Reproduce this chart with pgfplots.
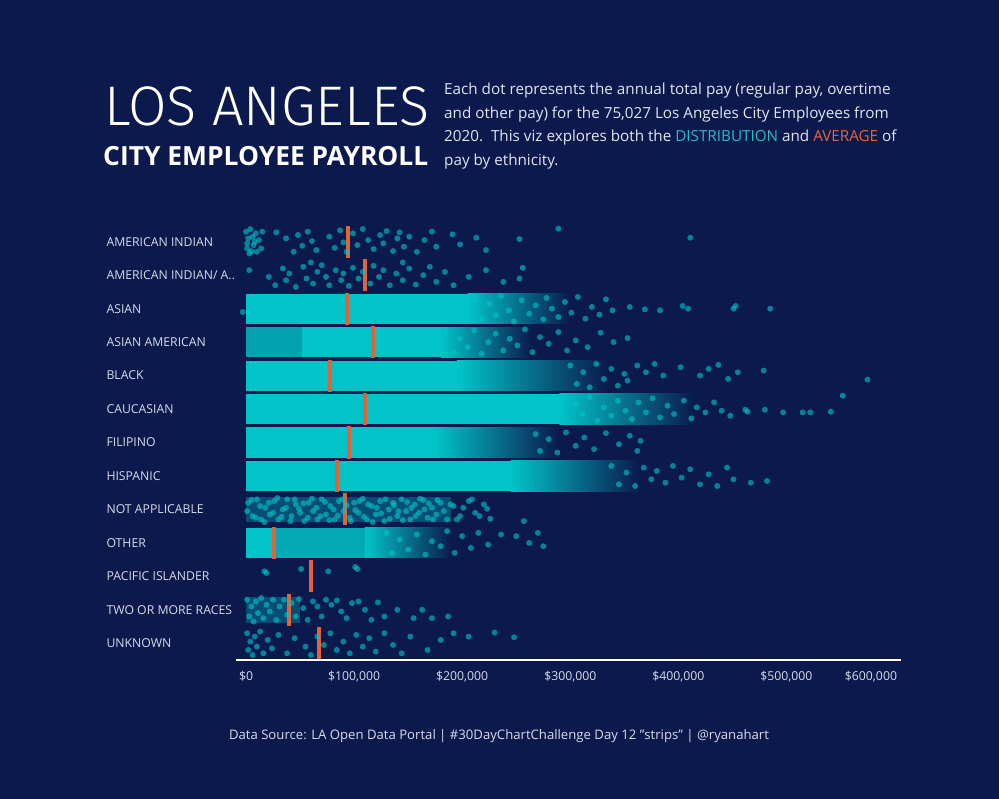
\documentclass[border=0pt]{standalone}
\usepackage{fontspec}
\setmainfont{Open Sans}
\newfontfamily\lightfont{Fira Sans Light}
\usepackage{pgfplots}
\pgfplotsset{compat=1.18}
\definecolor{bg}{RGB}{11,25,77}
\definecolor{dotc}{RGB}{0,196,200}
\definecolor{avgc}{RGB}{226,99,58}
\definecolor{lbl}{RGB}{215,220,232}
\definecolor{desc}{RGB}{225,229,238}
\definecolor{distc}{RGB}{40,188,196}
\definecolor{avgt}{RGB}{232,100,58}
\newcommand\sixlabel{\$600,000}
\pgfplotsset{
  band/.style={fill=dotc, draw=none},
  semi/.style={fill=dotc, draw=none, fill opacity=#1},
  fade/.style={draw=none, left color=dotc, middle color=dotc!65!bg, right color=bg},
  dots/.style={only marks, mark=*, mark size=3bp, mark options={draw=none, fill=dotc, fill opacity=0.62, draw opacity=0}},
  avg/.style={draw=avgc, line width=4bp},
}
\begin{document}
\begin{tikzpicture}
\fill[bg] (0,0) rectangle (999bp,799bp);
\useasboundingbox (0,0) rectangle (999bp,799bp);
\node[anchor=base west, inner sep=0, text=white] at (104bp,673bp) {\lightfont\fontsize{56}{56}\selectfont LOS ANGELES};
\node[anchor=base west, inner sep=0, text=white] at (103bp,633bp) {\bfseries\fontsize{26.5}{26.5}\selectfont CITY EMPLOYEE PAYROLL};
\node[anchor=north west, inner sep=0, align=left, text=desc, font=\fontsize{15.3}{23.5}\selectfont] at (444bp,716bp) {Each dot represents the annual total pay (regular pay, overtime\\ and other pay) for the 75,027 Los Angeles City Employees from\\ 2020.\ \ This viz explores both the \textcolor{distc}{DISTRIBUTION} and \textcolor{avgt}{AVERAGE} of\\ pay by ethnicity.};
\node[anchor=base, text=lbl, font=\fontsize{13.2}{15}\selectfont] at (499bp,59bp) {Data Source: LA Open Data Portal | \#30DayChartChallenge Day 12 "strips" | @ryanahart};
\begin{axis}[
  at={(236bp,139bp)}, anchor=south west, scale only axis,
  width=665bp, height=435bp,
  xmin=-9.3, xmax=606, ymin=0.5, ymax=13.5, y dir=reverse,
  axis x line=bottom, axis y line=left,
  x axis line style={draw=white, line width=1.2bp, -},
  y axis line style={draw=none},
  major tick length=0, tick style={draw=none},
  xtick={0,100,200,300,400,500},
  xticklabels={{\$0},{\$100,000},{\$200,000},{\$300,000},{\$400,000},{\$500,000}},
  extra x ticks={600}, extra x tick labels={\sixlabel},
  extra x tick style={grid=none, xticklabel style={anchor=north east, xshift=6bp}},
  ytick={1,...,13},
  yticklabels={AMERICAN INDIAN,AMERICAN INDIAN/ A..,ASIAN,ASIAN AMERICAN,BLACK,CAUCASIAN,FILIPINO,HISPANIC,NOT APPLICABLE,OTHER,PACIFIC ISLANDER,TWO OR MORE RACES,UNKNOWN},
  yticklabel style={anchor=west, xshift=-133bp},
  xticklabel style={yshift=-8bp},
  ticklabel style={font=\fontsize{12.3}{14}\selectfont, text=lbl},
  clip=false,
]
% ---- dense bands ----
\addplot[band] coordinates {(0,2.55) (205,2.55) (205,3.45) (0,3.45)} --cycle;
\addplot[fade] coordinates {(205,2.55) (300,2.55) (300,3.45) (205,3.45)} --cycle;
\addplot[semi=0.8] coordinates {(0,3.55) (52,3.55) (52,4.45) (0,4.45)} --cycle;
\addplot[band] coordinates {(52,3.55) (180,3.55) (180,4.45) (52,4.45)} --cycle;
\addplot[fade] coordinates {(180,3.55) (265,3.55) (265,4.45) (180,4.45)} --cycle;
\addplot[band] coordinates {(0,4.55) (195,4.55) (195,5.45) (0,5.45)} --cycle;
\addplot[fade] coordinates {(195,4.55) (335,4.55) (335,5.45) (195,5.45)} --cycle;
\addplot[band] coordinates {(0,5.55) (290,5.55) (290,6.45) (0,6.45)} --cycle;
\addplot[fade] coordinates {(290,5.55) (415,5.55) (415,6.45) (290,6.45)} --cycle;
\addplot[band] coordinates {(0,6.55) (175,6.55) (175,7.45) (0,7.45)} --cycle;
\addplot[fade] coordinates {(175,6.55) (290,6.55) (290,7.45) (175,7.45)} --cycle;
\addplot[band] coordinates {(0,7.55) (245,7.55) (245,8.45) (0,8.45)} --cycle;
\addplot[fade] coordinates {(245,7.55) (365,7.55) (365,8.45) (245,8.45)} --cycle;
\addplot[semi=0.3] coordinates {(0,8.62) (190,8.62) (190,9.38) (0,9.38)} --cycle;
\addplot[band] coordinates {(0,9.55) (27,9.55) (27,10.45) (0,10.45)} --cycle;
\addplot[semi=0.85] coordinates {(27,9.55) (110,9.55) (110,10.45) (27,10.45)} --cycle;
\addplot[fade] coordinates {(110,9.55) (190,9.55) (190,10.45) (110,10.45)} --cycle;
\addplot[semi=0.3] coordinates {(0,11.62) (50,11.62) (50,12.38) (0,12.38)} --cycle;
% ---- individual dots ----
\addplot[dots] table {
x y
0 0.7
1 1.2
2 0.9
3 1.35
1 1.05
4 0.62
5 1.28
6 0.85
7 1.1
9 0.75
10 1.3
12 0.95
14 1.2
15 0.7
8 1.0
28 0.72
37 0.9
44 1.3
48 0.8
52 1.12
57 0.7
61 0.98
65 1.25
77 0.85
82 1.18
87 0.66
90 1.02
93 1.3
99 0.75
103 1.1
108 0.62
113 0.95
118 1.22
124 0.8
127 1.05
130 0.68
136 1.28
140 0.9
142 0.72
146 1.15
151 0.85
158 1.3
165 0.95
172 0.7
176 1.15
191 0.78
198 1.08
213 0.88
222 1.25
253 0.92
289 0.61
411 0.88
};
\addplot[dots] table {
x y
3 1.85
21 2.05
27 2.3
34 1.8
37 2.15
40 1.95
46 2.35
53 1.75
56 2.1
62 2.25
66 1.9
70 1.7
74 2.05
77 2.3
83 1.85
88 2.15
90 1.95
95 2.32
99 1.78
104 2.1
108 1.9
115 2.25
118 1.72
123 2.05
127 1.85
133 2.3
139 1.95
145 2.15
151 1.8
157 2.28
164 2.0
170 1.75
176 2.2
184 1.9
192 2.3
206 2.05
222 1.85
238 2.2
253 2.1
256 1.78
145 1.62
60 1.62
};
\addplot[dots] table {
x y
-3 3.1
212 2.7
218 3.3
225 2.85
231 3.2
236 2.62
243 3.05
248 3.38
255 2.75
262 3.15
268 2.9
275 3.32
278 2.68
283 3.0
289 3.25
295 2.8
301 3.12
307 2.65
314 3.3
320 2.95
327 3.18
333 2.72
339 3.05
355 2.95
369 3.02
383 3.05
404 2.92
409 3.0
451 3.0
453 2.92
485 3.0
};
\addplot[dots] table {
x y
185 3.7
192 4.3
198 3.9
205 4.15
211 3.65
218 4.35
224 4.0
231 3.75
238 4.25
244 3.9
251 4.1
258 3.62
265 4.3
272 3.85
280 4.05
289 3.7
297 4.25
305 3.95
316 4.15
328 3.72
340 4.0
353 3.88
};
\addplot[dots] table {
x y
300 4.7
306 5.25
312 4.9
318 5.35
324 4.65
331 5.1
338 4.8
344 5.3
350 4.95
353 5.15
362 4.7
370 4.9
378 4.65
386 5.0
402 4.75
420 5.0
428 4.8
437 4.68
446 5.1
455 4.9
479 4.85
575 5.12
};
\addplot[dots] table {
x y
292 5.7
298 6.3
305 5.85
311 6.15
318 5.65
325 6.35
331 5.95
338 6.2
344 5.75
351 6.05
357 6.3
363 5.8
370 6.1
376 5.68
383 6.25
390 5.9
396 6.15
405 5.75
412 6.28
417 5.95
425 6.1
433 5.8
440 6.05
448 6.2
462 6.02
464 6.08
480 6.02
497 6.1
515 6.1
522 6.1
541 6.08
552 5.6
};
\addplot[dots] table {
x y
268 6.75
272 7.25
280 6.9
288 7.3
296 6.7
305 7.1
313 6.85
322 7.2
333 6.72
345 7.05
355 6.8
362 7.25
365 6.95
};
\addplot[dots] table {
x y
338 7.7
345 8.25
352 7.9
360 8.3
368 7.75
375 8.1
380 7.85
388 8.2
395 7.7
403 8.05
411 7.8
420 8.25
428 7.95
436 8.3
445 7.75
451 8.1
467 8.2
482 8.15
};
\addplot[dots] table {
x y
2 8.8
6 9.2
10 8.7
14 9.3
18 8.95
22 9.15
26 8.75
30 9.3
34 9.0
38 8.7
42 9.2
46 8.85
50 9.1
54 9.35
58 8.8
62 9.05
66 9.3
70 8.7
74 9.15
78 8.9
82 9.3
86 8.75
90 9.05
96 9.25
100 8.8
104 9.1
108 8.68
112 9.3
116 8.9
120 9.15
124 8.75
128 9.35
132 9.0
136 8.8
140 9.2
144 8.7
148 9.05
152 9.3
156 8.85
160 9.1
164 8.72
168 9.25
172 8.95
176 9.15
180 8.8
186 9.3
192 8.9
198 9.2
206 8.75
212 9.1
220 8.85
226 9.28
257 9.35
1 9.05
5 8.72
9 9.25
13 8.9
17 9.38
21 8.8
25 9.1
29 8.66
33 9.22
37 8.95
41 9.35
45 8.7
49 8.98
53 8.82
57 9.25
61 8.68
65 8.95
69 9.2
73 8.78
77 9.32
81 9.0
85 9.18
89 8.7
93 8.88
97 9.35
101 9.02
105 8.75
109 9.22
113 8.85
117 9.38
121 8.95
125 9.12
129 8.7
133 9.28
137 8.88
141 9.05
145 9.32
149 8.78
153 8.95
157 9.2
161 8.68
165 9.0
169 8.82
173 9.3
177 8.72
183 9.05
189 8.85
195 9.3
201 8.95
209 8.7
216 9.2
223 8.98
};
\addplot[dots] table {
x y
130 9.7
135 10.3
142 9.9
150 10.2
158 9.75
166 10.35
172 9.95
180 10.1
186 9.65
193 10.3
200 9.8
208 10.15
215 9.7
224 10.05
236 9.75
250 9.8
262 10.0
275 10.1
270 9.7
};
\addplot[dots] table {
x y
17 10.85
19 10.9
51 10.78
76 10.85
101 10.72
103 10.78
};
\addplot[dots] table {
x y
1 11.7
3 12.2
5 11.9
7 12.35
9 11.75
11 12.1
14 11.65
16 12.25
19 11.85
22 12.05
25 11.7
28 12.3
31 11.9
35 11.7
38 12.15
42 11.8
46 12.2
49 11.68
53 11.95
57 12.3
62 11.75
66 11.9
70 12.2
74 11.7
79 11.85
84 11.72
88 12.05
93 12.25
98 11.8
104 11.75
110 12.0
116 12.3
122 11.78
128 12.2
140 12.0
155 12.25
163 12.0
172 12.25
187 12.2
};
\addplot[dots] table {
x y
1 12.7
2 13.2
4 12.95
6 13.35
8 12.8
10 13.1
13 12.65
16 13.3
20 12.9
24 13.15
30 12.75
38 13.3
45 12.85
55 13.1
60 13.35
66 12.8
72 13.05
78 12.7
84 13.2
90 12.95
96 13.3
102 12.75
108 13.1
114 12.85
120 13.25
128 12.7
136 13.05
144 13.3
152 12.8
168 13.2
180 12.9
192 12.7
206 12.8
230 12.68
248 12.82
};
% ---- averages ----
\addplot[avg] coordinates {(94.4,0.52) (94.4,1.48)};
\addplot[avg] coordinates {(110,1.52) (110,2.48)};
\addplot[avg] coordinates {(93.5,2.52) (93.5,3.48)};
\addplot[avg] coordinates {(117.6,3.52) (117.6,4.48)};
\addplot[avg] coordinates {(77.8,4.52) (77.8,5.48)};
\addplot[avg] coordinates {(110,5.52) (110,6.48)};
\addplot[avg] coordinates {(95.4,6.52) (95.4,7.48)};
\addplot[avg] coordinates {(84.3,7.52) (84.3,8.48)};
\addplot[avg] coordinates {(91.7,8.52) (91.7,9.48)};
\addplot[avg] coordinates {(26,9.52) (26,10.48)};
\addplot[avg] coordinates {(60,10.52) (60,11.48)};
\addplot[avg] coordinates {(39.8,11.52) (39.8,12.48)};
\addplot[avg] coordinates {(67.6,12.52) (67.6,13.48)};
\end{axis}
\end{tikzpicture}
\end{document}
